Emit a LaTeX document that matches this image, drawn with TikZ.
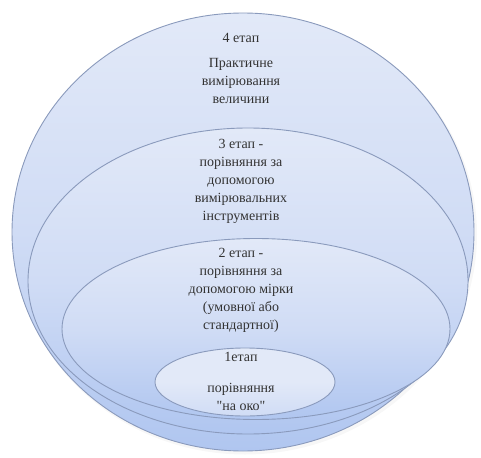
\documentclass[tikz,border=0pt]{standalone}
\usepackage{fontspec}
\setmainfont{Liberation Serif}
\usetikzlibrary{shapes.geometric}
\definecolor{edgec}{HTML}{8A9ABC}
\definecolor{topc}{HTML}{E2E9F8}
\definecolor{midc}{HTML}{D0DCF5}
\definecolor{botc}{HTML}{B0C6F0}
\definecolor{txtc}{HTML}{333333}
\begin{document}
\begin{tikzpicture}[x=1pt,y=-1pt,
  stage/.style={ellipse, draw=edgec, line width=0.9pt, inner sep=0pt,
    top color=topc, bottom color=botc, middle color=midc},
  lbl/.style={text=txtc, font=\fontsize{14}{18}\selectfont, align=center, inner sep=0pt}]
\useasboundingbox (0,0) rectangle (481,457);
\fill[black, opacity=0.03] (245,234.5) ellipse [x radius=232pt, y radius=220pt];
\node[stage, minimum width=462pt, minimum height=438pt] (e4) at (243,232) {};
\node[stage, minimum width=440pt, minimum height=306pt] (e3) at (248,281) {};
\node[stage, minimum width=388pt, minimum height=181pt] (e2) at (256,329) {};
\node[stage, minimum width=180pt, minimum height=68pt, top color=topc, bottom color=midc, middle color=topc] (e1) at (245,382) {};
\node[lbl] (t4a) at (241,38) {4 етап};
\node[lbl] (t4b) at (241,81) {Практичне\\вимірювання\\величини};
\node[lbl] (t3) at (241,181) {3 етап -\\порівняння за\\допомогою\\вимірювальних\\інструментів};
\node[lbl] (t2) at (241,290) {2 етап -\\порівняння за\\допомогою мірки\\(умовної або\\стандартної)};
\node[lbl] (t1a) at (241,357) {1етап};
\node[lbl] (t1b) at (241,397) {порівняння\\\textquotedbl на око\textquotedbl};
\end{tikzpicture}
\end{document}
